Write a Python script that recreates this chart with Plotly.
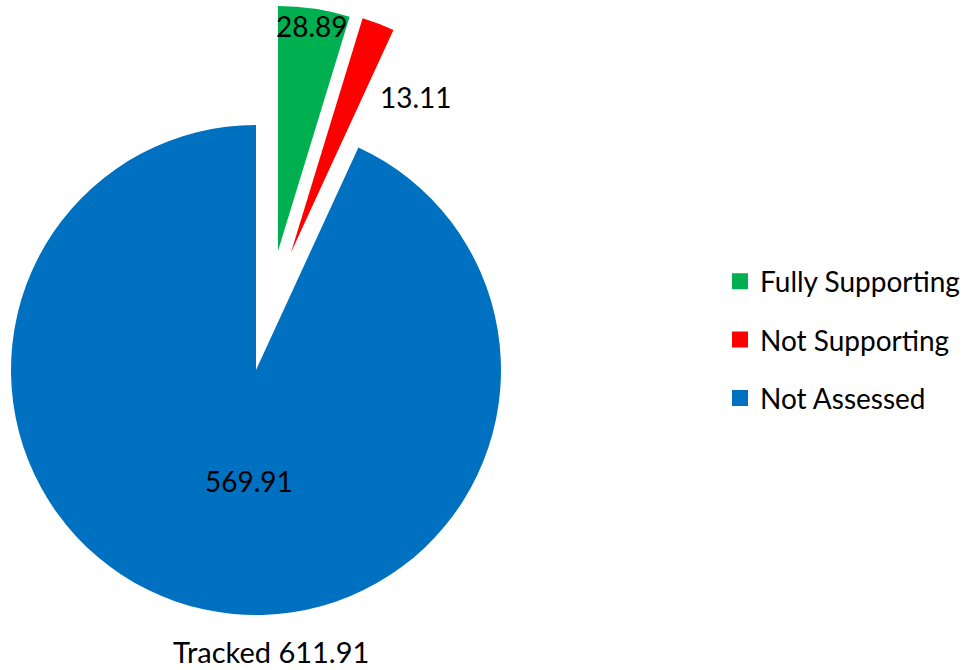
import plotly.graph_objects as go

# ---- data ----
categories = ["Fully Supporting", "Not Supporting", "Not Assessed"]
values = [28.89, 13.11, 569.91]
total_caption = "Tracked"

# ---- style / layout ----
colors = ["#00B050", "#FF0000", "#0070C0"]
W, H = 973, 670
R = 245
slice_centers = [(278, 251), (291, 252.5), (256, 370)]  # exploded slice apex positions (px)
label_pos = [(312, 27), (415.5, 98), (249, 482)]
total_pos = (270.5, 652)
TEXT_DY = 1  # annotation box middle vs glyph middle
FONT = "Lato"
FS_NUM = 28
FS_TXT = 29
FS_LEG = 28

total = sum(values)

fig = go.Figure()
for i, (cx, cy) in enumerate(slice_centers):
    cols = [c if j == i else "rgba(0,0,0,0)" for j, c in enumerate(colors)]
    fig.add_trace(go.Pie(
        labels=categories, values=values, sort=False, direction="clockwise",
        rotation=0, marker=dict(colors=cols, line=dict(width=0)),
        textinfo="none", hoverinfo="skip", showlegend=False,
        domain=dict(x=[(cx - R) / W, (cx + R) / W],
                    y=[1 - (cy + R) / H, 1 - (cy - R) / H]),
    ))

for i, cat in enumerate(categories):
    fig.add_trace(go.Scatter(
        x=[None], y=[None], mode="markers", name=cat, legendgroup=str(i),
        marker=dict(symbol="square", size=16, color=colors[i]),
        showlegend=True, hoverinfo="skip",
    ))

annotations = []
for (px, py), v in zip(label_pos, values):
    annotations.append(dict(
        x=px / W, y=1 - (py - TEXT_DY) / H, xref="paper", yref="paper",
        text=f"{v:.2f}", showarrow=False, xanchor="center", yanchor="middle",
        font=dict(family=FONT, size=FS_NUM, color="black")))
annotations.append(dict(
    x=total_pos[0] / W, y=1 - (total_pos[1] - TEXT_DY) / H, xref="paper", yref="paper",
    text=f"{total_caption} {total:.2f}", showarrow=False, xanchor="center",
    yanchor="middle", font=dict(family=FONT, size=FS_TXT, color="black")))

fig.update_layout(
    width=W, height=H,
    margin=dict(l=0, r=0, t=0, b=0, autoexpand=False),
    paper_bgcolor="white", plot_bgcolor="white",
    font=dict(family=FONT, size=FS_TXT, color="black"),
    xaxis=dict(visible=False), yaxis=dict(visible=False),
    legend=dict(x=720 / W, y=1 - 340 / H, xanchor="left", yanchor="middle",
                tracegroupgap=19, bgcolor="rgba(0,0,0,0)",
                font=dict(family=FONT, size=FS_LEG, color="black")),
    annotations=annotations,
)

fig.write_html("out.html", config={"displayModeBar": False},
               post_script="document.body.style.margin='0';document.body.style.overflow='hidden';")
